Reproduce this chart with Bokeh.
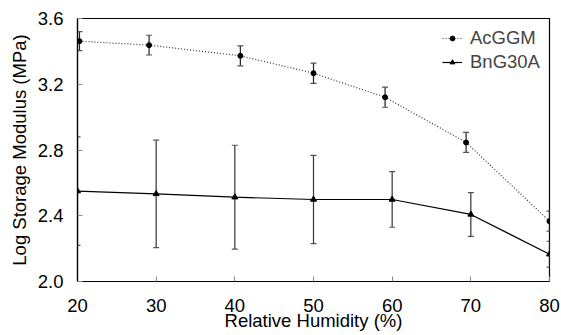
from bokeh.plotting import figure
from bokeh.models import FixedTicker, Legend, LegendItem, NumeralTickFormatter
from bokeh.embed import file_html
from bokeh.resources import INLINE

# ---- data ----
humidity_ticks = [20, 30, 40, 50, 60, 70, 80]
modulus_ticks = [2.0, 2.4, 2.8, 3.2, 3.6]

acggm_rh = [20.25, 29.1, 40.7, 50.0, 59.1, 69.4, 80.0]
acggm_mod = [3.462, 3.438, 3.373, 3.267, 3.121, 2.846, 2.367]
acggm_err = [0.058, 0.06, 0.061, 0.062, 0.061, 0.061, 0.061]

bng30a_rh = [20, 30, 40, 50, 60, 70, 80]
bng30a_mod = [2.55, 2.533, 2.513, 2.499, 2.499, 2.408, 2.166]
bng30a_err = [0.33, 0.327, 0.316, 0.268, 0.169, 0.133, 0.079]

FONT = "Liberation Sans"
FS = "18.5px"

p = figure(width=561, height=335, x_range=(20, 80), y_range=(2.0, 3.6),
           output_backend="svg", toolbar_location=None,
           min_border_left=77, min_border_right=12, min_border_top=18, min_border_bottom=54)

p.xgrid.visible = False
p.ygrid.visible = False
p.outline_line_color = "black"
p.outline_line_width = 1.2
p.background_fill_color = "white"
p.border_fill_color = "white"

for ax in (p.xaxis[0], p.yaxis[0]):
    ax.axis_line_color = "black"
    ax.axis_line_width = 1.2
    ax.major_tick_in = 5
    ax.major_tick_out = 0
    ax.minor_tick_in = 0
    ax.minor_tick_out = 0
    ax.major_tick_line_color = "#888888"
    ax.major_label_text_font = FONT
    ax.major_label_text_font_size = FS
    ax.major_label_text_color = "black"
    ax.axis_label_text_font = FONT
    ax.axis_label_text_font_size = FS
    ax.axis_label_text_font_style = "normal"
    ax.axis_label_text_color = "black"

p.xaxis.ticker = FixedTicker(ticks=humidity_ticks)
p.yaxis.ticker = FixedTicker(ticks=modulus_ticks)
p.yaxis.formatter = NumeralTickFormatter(format="0.0")
p.xaxis.axis_label = "Relative Humidity (%)"
p.yaxis.axis_label = "Log Storage Modulus (MPa)"
p.xaxis.major_label_standoff = 17
p.xaxis.axis_label_standoff = -5
p.yaxis.major_label_standoff = 14
p.yaxis.axis_label_standoff = 5

def error_bars(xs, ys, es, stem_color, cap_color):
    lo = [y - e for y, e in zip(ys, es)]
    hi = [y + e for y, e in zip(ys, es)]
    p.segment(x0=xs, y0=lo, x1=xs, y1=hi, line_color=stem_color, line_width=1.2)
    p.dash(x=xs, y=lo, size=6, line_color=cap_color, line_width=1.2)
    p.dash(x=xs, y=hi, size=6, line_color=cap_color, line_width=1.2)

error_bars(acggm_rh, acggm_mod, acggm_err, "#222222", "#555555")
error_bars(bng30a_rh, bng30a_mod, bng30a_err, "#333333", "#555555")

l1 = p.line(acggm_rh, acggm_mod, line_color="#333333", line_width=1.2, line_dash="1 2")
s1 = p.scatter(acggm_rh, acggm_mod, marker="circle", size=5, fill_color="black", line_color="black")
l2 = p.line(bng30a_rh, bng30a_mod, line_color="black", line_width=1.2)
s2 = p.scatter(bng30a_rh, bng30a_mod, marker="triangle", size=6, fill_color="black", line_color="black")

legend = Legend(items=[LegendItem(label="AcGGM", renderers=[l1, s1]),
                       LegendItem(label="BnG30A", renderers=[l2, s2])],
                location=(365, 208), border_line_color=None, background_fill_alpha=0,
                padding=0, margin=0, spacing=2, glyph_width=20, glyph_height=12,
                label_height=20, label_standoff=8,
                label_text_font=FONT, label_text_font_size=FS)
p.add_layout(legend)

open("out.html", "w").write(file_html(p, INLINE))
